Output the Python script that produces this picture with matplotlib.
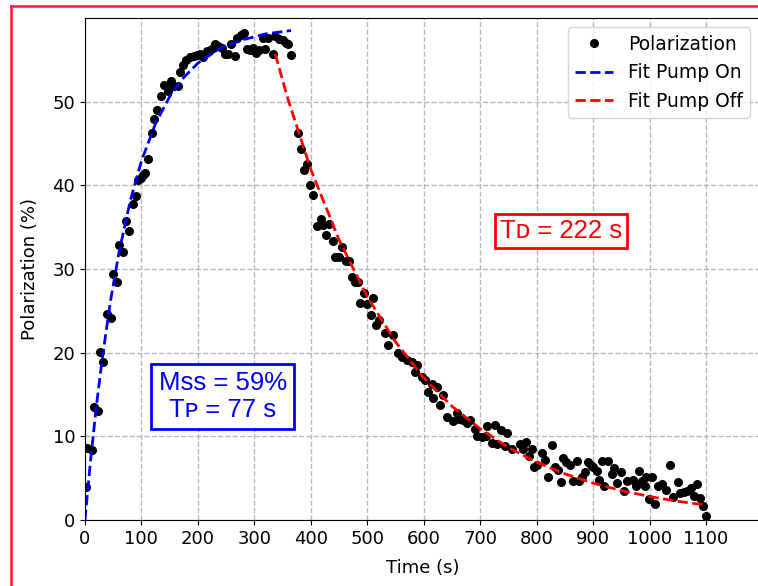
import matplotlib.pyplot as plt
from matplotlib.lines import Line2D

time_s = [
    1, 4, 12, 16, 23, 27, 32, 39, 46, 50, 56, 60, 67, 73, 78, 85, 90, 94, 99,
    103, 106, 112, 119, 122, 128, 135, 140, 147, 152, 156, 165, 168, 174, 179,
    186, 193, 198, 204, 209, 216, 221, 226, 230, 236, 243, 248, 253, 259, 266,
    269, 276, 282, 287, 292, 298, 303, 309, 315, 319, 324, 333, 337, 344, 351,
    356, 360, 365,
    378, 383, 388, 393, 399, 404, 411, 418, 422, 427, 432, 439, 443, 450, 455,
    462, 468, 473, 478, 484, 488, 494, 500, 506, 510, 516, 521, 531, 537, 546,
    554, 561, 570, 579, 585, 588, 597, 602, 608, 615, 617, 623, 629, 634, 641,
    652, 659, 663, 670, 677, 682, 691, 694, 703, 710, 712, 721, 726, 730, 737,
    744, 748, 756, 771, 776, 781, 787, 792, 795, 800, 810, 815, 820, 827, 833,
    838, 843, 847, 852, 859, 864, 871, 875, 880, 886, 891, 896, 900, 907, 911,
    916, 919, 926, 933, 937, 942, 949, 955, 960, 970, 976, 981, 986, 992, 994,
    999, 1004, 1010, 1015, 1023, 1029, 1036, 1042, 1050, 1054, 1061, 1067,
    1073, 1078, 1084, 1089, 1094, 1100,
]
polarization = [
    4.0, 8.6, 8.4, 13.5, 13.0, 20.1, 18.9, 24.6, 24.2, 29.4, 28.4, 32.9, 32.0,
    35.7, 34.5, 37.8, 38.7, 40.6, 40.9, 41.2, 41.5, 43.1, 46.2, 47.9, 49.0,
    50.7, 52.0, 51.3, 52.5, 51.9, 51.9, 53.6, 54.4, 55.0, 55.3, 55.4, 55.6,
    55.7, 55.3, 56.1, 56.2, 56.4, 56.9, 56.7, 56.4, 55.7, 55.7, 56.9, 55.5,
    57.6, 58.0, 58.2, 56.3, 56.2, 56.4, 55.8, 56.2, 57.6, 56.3, 57.6, 55.7,
    57.8, 57.5, 57.4, 57.0, 56.9, 55.6,
    46.3, 44.3, 41.8, 42.6, 40.0, 38.8, 35.1, 36.0, 35.3, 34.1, 35.4, 33.4,
    31.4, 31.4, 32.6, 30.9, 31.0, 29.1, 28.4, 28.4, 25.9, 27.1, 25.8, 24.5,
    26.5, 23.3, 23.9, 22.4, 20.9, 22.1, 20.0, 19.5, 19.1, 18.9, 17.7, 18.5,
    17.1, 16.7, 15.3, 16.3, 14.6, 15.9, 13.7, 14.9, 12.3, 11.8, 12.8, 12.1,
    11.9, 11.6, 11.9, 10.9, 10.0, 9.9, 10.1, 11.2, 9.2, 11.3, 9.1, 10.7, 8.8,
    10.4, 8.5, 9.1, 8.5, 9.3, 7.6, 8.5, 6.3, 6.6, 8.0, 7.2, 5.1, 9.0, 6.3,
    6.0, 4.5, 7.4, 6.9, 6.6, 4.7, 7.0, 4.7, 5.1, 5.7, 6.9, 6.6, 6.3, 5.8, 4.8,
    7.0, 4.1, 7.0, 5.5, 6.2, 4.4, 5.7, 3.5, 4.7, 4.8, 4.1, 5.8, 4.7, 4.1, 5.1,
    2.5, 5.1, 1.9, 4.1, 4.3, 3.6, 6.6, 2.7, 4.5, 3.2, 3.4, 3.5, 3.8, 2.9, 4.3,
    2.6, 1.7, 0.5,
]

# fit curves, sampled from the plot
fit_on_t = [0, 10, 20, 30, 45, 60, 80, 100, 125, 150, 175, 200, 240, 280, 320, 365]
fit_on_p = [0, 7.2, 13.5, 19.0, 26.1, 31.9, 38.1, 42.9, 47.4, 50.6, 52.9, 54.6,
            56.4, 57.4, 58.1, 58.5]
fit_off_t = [337, 360, 400, 450, 500, 550, 600, 650, 700, 750, 800, 850, 900,
             950, 1000, 1050, 1100]
fit_off_p = [55.7, 50.2, 41.9, 33.5, 26.7, 21.3, 17.0, 13.6, 10.9, 8.67, 6.92,
             5.52, 4.41, 3.52, 2.81, 2.24, 1.79]

x_ticks = [0, 100, 200, 300, 400, 500, 600, 700, 800, 900, 1000, 1100]

fig = plt.figure(figsize=(7.58, 5.86), dpi=100)
ax = fig.add_axes([0.1121, 0.1126, 0.89, 0.8567])

ax.plot(time_s, polarization, "o", color="black", ms=5.5, label="Polarization")
ax.plot(fit_on_t, fit_on_p, "--", color="blue", lw=2, label="Fit Pump On")
ax.plot(fit_off_t, fit_off_p, "--", color="red", lw=2, label="Fit Pump Off")

ax.set_xlim(0, 1195)
ax.set_ylim(0, 60)
ax.set_xticks(x_ticks)
ax.set_yticks([0, 10, 20, 30, 40, 50])
ax.tick_params(labelsize=13)
ax.grid(True, linestyle="--", color="#b8b8b8", lw=1)
ax.set_axisbelow(True)
ax.set_xlabel("Time (s)", fontsize=13, labelpad=8)
ax.set_ylabel("Polarization (%)", fontsize=13, labelpad=10)
ax.legend(loc="upper right", fontsize=13.5)

fam = ["Liberation Sans", "DejaVu Sans"]
ax.text(244, 14.8, "Mss = 59%\nT\u1d18 = 77 s", color="blue", fontsize=18.5,
        family=fam, ha="center", va="center", multialignment="center",
        linespacing=1.15,
        bbox=dict(boxstyle="square,pad=0.28", fc="white", ec="blue", lw=2))
ax.text(843, 34.5, "T\u1d05 = 222 s", color="red", fontsize=18.5,
        family=fam, ha="center", va="center",
        bbox=dict(boxstyle="square,pad=0.2", fc="white", ec="red", lw=2))

# red frame around the screenshot
fig.add_artist(Line2D([11 / 758, 11 / 758], [0, 1 - 6 / 586],
                      transform=fig.transFigure, color="#ff1a2a", lw=1.8))
fig.add_artist(Line2D([11 / 758, 1], [1 - 6 / 586, 1 - 6 / 586],
                      transform=fig.transFigure, color="#ff1a2a", lw=1.8))

plt.savefig("out.png", dpi=100)
plt.close()
